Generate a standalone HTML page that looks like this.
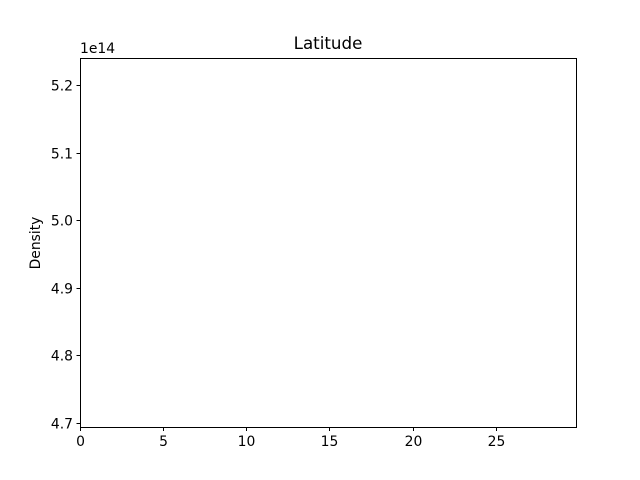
<!DOCTYPE html>
<html><head><meta charset="utf-8"><style>body{margin:0;background:#fff}svg{display:block;font-family:"DejaVu Sans","Liberation Sans",sans-serif}</style></head>
<body>
<svg id="chart" width="640" height="480">
<rect width="640" height="480" fill="#fff"/>
<text x="328" y="49" font-size="16.7" text-anchor="middle">Latitude</text>
<text x="40" y="243" font-size="13.9" text-anchor="middle" transform="rotate(-90 40 243)">Density</text>
<text x="80" y="53" font-size="13.9">1e14</text>
<g id="ticks"></g>
<rect x="80.5" y="58.5" width="496" height="369" fill="none" stroke="#000" stroke-width="1"/>
</svg>
<script>
const xTicks=[0,5,10,15,20,25];
const yTicks=[4.7,4.8,4.9,5.0,5.1,5.2];
const yLabels=["4.7","4.8","4.9","5.0","5.1","5.2"];
const L=80,R=576,T=58,B=427;
const xmin=0,xmax=29.82,ymin=4.6941,ymax=5.2400;
const sx=v=>L+(v-xmin)/(xmax-xmin)*(R-L);
const sy=v=>B-(v-ymin)/(ymax-ymin)*(B-T);
const g=document.getElementById('ticks');
const NS='http://www.w3.org/2000/svg';
xTicks.forEach(v=>{
  const x=Math.round(sx(v))+0.5;
  const l=document.createElementNS(NS,'line');
  l.setAttribute('x1',x);l.setAttribute('x2',x);l.setAttribute('y1',B+0.5);l.setAttribute('y2',B+4);l.setAttribute('stroke','#000');
  
  
  g.appendChild(l);
  const t=document.createElementNS(NS,'text');
  t.setAttribute('x',x);t.setAttribute('y',B+19);t.setAttribute('font-size','13.9');t.setAttribute('text-anchor','middle');
  t.textContent=String(v);
  
  
  g.appendChild(t);
});
yTicks.forEach((v,i)=>{
  const y=Math.round(sy(v))+0.5;
  const l=document.createElementNS(NS,'line');
  l.setAttribute('x1',L-3.5);l.setAttribute('x2',L+0.5);l.setAttribute('y1',y);l.setAttribute('y2',y);l.setAttribute('stroke','#000');
  
  
  g.appendChild(l);
  const t=document.createElementNS(NS,'text');
  t.setAttribute('x',L-7);t.setAttribute('y',y+5);t.setAttribute('font-size','13.9');t.setAttribute('text-anchor','end');
  t.textContent=yLabels[i];
  
  
  g.appendChild(t);
});
</script>
</body></html>
